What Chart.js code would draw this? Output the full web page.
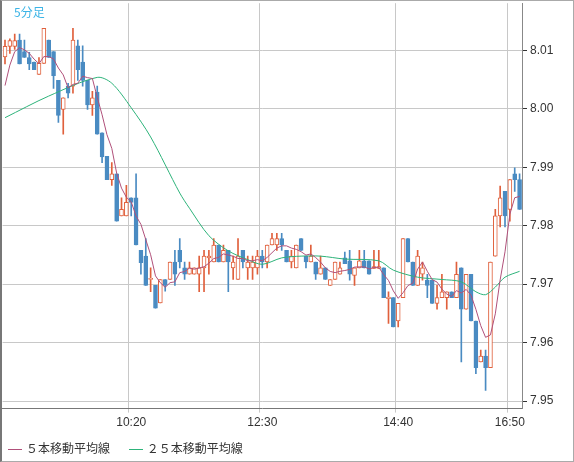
<!DOCTYPE html>
<html>
<head>
<meta charset="utf-8">
<script src="https://cdn.jsdelivr.net/npm/chart.js@4/dist/chart.umd.min.js"></script>
<style>
  body { margin: 0; background: #fff; font-family: "Noto Sans CJK JP", sans-serif; }
  #wrap { position: relative; width: 574px; height: 462px; box-sizing: border-box; border: 1px solid #aaa; border-left: 2px solid #777; overflow: hidden; }
  #c { margin-top: -8px; display: block; }
  #tf { position: absolute; left: 12px; top: 2px; color: #3cb4e6; font-size: 12px; }
  #legend { position: absolute; left: 6px; top: 438px; font-size: 12px; color: #333; }
  #legend span.ln { display: inline-block; width: 14px; height: 1px; vertical-align: middle; margin-right: 4px; }
</style>
</head>
<body>
<div id="wrap">
  <canvas id="c" width="570" height="467"></canvas>
  <div id="tf">5分足</div>
  <div id="legend">
    <span class="ln" style="background:#b0507a"></span>５本移動平均線
    <span class="ln" style="background:#2db37a;margin-left:16px"></span>２５本移動平均線
  </div>
</div>
<script>
// OHLC per 5-minute candle
const opens  = [8.0089,8.0107,8.0107,8.0118,8.0098,8.0088,8.0080,8.0059,8.0078,8.0118,8.0098,8.0049,7.9999,8.0039,8.0039,8.0108,8.0080,8.0049,8.0007,8.0029,
                7.9959,7.9919,7.9879,7.9889,7.9817,7.9817,7.9848,7.9848,7.9758,7.9748,7.9708,7.9698,7.9668,7.9708,7.9708,7.9738,7.9758,7.9728,7.9717,7.9717,
                7.9717,7.9728,7.9745,7.9738,7.9767,7.9738,7.9758,7.9728,7.9708,7.9758,7.9728,7.9728,7.9728,7.9748,7.9738,7.9767,7.9767,7.9778,7.9758,7.9738,
                7.9728,7.9778,7.9748,7.9738,7.9738,7.9717,7.9728,7.9698,7.9708,7.9717,7.9745,7.9740,7.9715,7.9728,7.9740,7.9740,7.9727,7.9727,7.9728,7.9675,
                7.9677,7.9637,7.9677,7.9778,7.9738,7.9698,7.9717,7.9707,7.9707,7.9667,7.9677,7.9677,7.9687,7.9677,7.9728,7.9657,7.9717,7.9637,7.9567,7.9577,
                7.9557,7.9748,7.9817,7.9859,7.9828,7.9889,7.9879];
const highs  = [8.0118,8.0120,8.0128,8.0128,8.0118,8.0097,8.0080,8.0088,8.0138,8.0118,8.0098,8.0049,8.0019,8.0044,8.0138,8.0118,8.0108,8.0049,8.0030,8.0039,
                7.9959,7.9919,7.9908,7.9889,7.9848,7.9869,7.9848,7.9889,7.9758,7.9778,7.9728,7.9698,7.9708,7.9708,7.9738,7.9758,7.9778,7.9738,7.9738,7.9728,
                7.9748,7.9758,7.9758,7.9778,7.9767,7.9767,7.9758,7.9748,7.9778,7.9758,7.9748,7.9748,7.9758,7.9758,7.9767,7.9787,7.9787,7.9787,7.9758,7.9758,
                7.9767,7.9778,7.9748,7.9767,7.9738,7.9748,7.9728,7.9708,7.9738,7.9738,7.9755,7.9758,7.9728,7.9758,7.9758,7.9740,7.9758,7.9758,7.9728,7.9687,
                7.9677,7.9667,7.9778,7.9778,7.9738,7.9758,7.9738,7.9717,7.9707,7.9698,7.9717,7.9687,7.9687,7.9738,7.9728,7.9717,7.9717,7.9637,7.9587,7.9587,
                7.9738,7.9828,7.9868,7.9859,7.9879,7.9899,7.9889];
const lows   = [8.0077,8.0095,8.0102,8.0077,8.0088,8.0067,8.0067,8.0059,8.0078,8.0088,8.0035,7.9977,7.9957,8.0019,8.0027,8.0049,8.0039,7.9999,7.9989,7.9957,
                7.9908,7.9879,7.9869,7.9808,7.9817,7.9817,7.9817,7.9767,7.9717,7.9698,7.9687,7.9659,7.9668,7.9688,7.9708,7.9698,7.9728,7.9708,7.9717,7.9717,
                7.9687,7.9687,7.9717,7.9738,7.9738,7.9738,7.9687,7.9708,7.9708,7.9728,7.9708,7.9708,7.9717,7.9728,7.9728,7.9767,7.9758,7.9758,7.9738,7.9728,
                7.9728,7.9758,7.9728,7.9738,7.9708,7.9717,7.9708,7.9698,7.9708,7.9717,7.9735,7.9707,7.9698,7.9728,7.9728,7.9717,7.9727,7.9727,7.9677,7.9633,
                7.9627,7.9627,7.9677,7.9738,7.9698,7.9698,7.9707,7.9677,7.9667,7.9657,7.9677,7.9657,7.9677,7.9677,7.9567,7.9657,7.9637,7.9547,7.9567,7.9518,
                7.9557,7.9748,7.9798,7.9798,7.9808,7.9859,7.9828];
const closes = [8.0107,8.0117,8.0117,8.0077,8.0088,8.0077,8.0067,8.0078,8.0138,8.0088,8.0057,7.9989,8.0019,8.0027,8.0118,8.0067,8.0049,8.0007,8.0019,7.9957,
                7.9918,7.9879,7.9889,7.9808,7.9828,7.9840,7.9840,7.9767,7.9737,7.9698,7.9710,7.9659,7.9708,7.9698,7.9738,7.9717,7.9738,7.9717,7.9728,7.9728,
                7.9728,7.9748,7.9748,7.9767,7.9738,7.9758,7.9738,7.9738,7.9748,7.9738,7.9738,7.9738,7.9748,7.9738,7.9767,7.9778,7.9778,7.9767,7.9738,7.9748,
                7.9767,7.9758,7.9738,7.9748,7.9717,7.9728,7.9708,7.9708,7.9738,7.9728,7.9735,7.9717,7.9728,7.9740,7.9728,7.9717,7.9730,7.9730,7.9677,7.9678,
                7.9627,7.9667,7.9778,7.9738,7.9698,7.9748,7.9728,7.9698,7.9667,7.9677,7.9687,7.9687,7.9677,7.9717,7.9657,7.9717,7.9637,7.9557,7.9577,7.9557,
                7.9738,7.9817,7.9848,7.9817,7.9879,7.9879,7.9828];
// first four 5-MA values (earlier closes not visible)
const ma5Head = [8.0040, 8.0075, 8.0098, 8.0105];
// 25-MA read at sampled candles [index, value]
const ma25Points = [[0,7.9985],[9,8.0022],[19,8.0054],[22,8.0044],[26,8.0002],[30,7.9952],[36,7.9856],[38,7.9830],[42,7.9783],
                    [46,7.9757],[50,7.9742],[53,7.9734],[57,7.9745],[61,7.9748],[65,7.9748],[70,7.9743],[77,7.9740],[80,7.9724],
                    [85,7.9712],[90,7.9708],[94,7.9704],[97,7.9687],[99,7.9682],[101,7.9695],[103,7.9712],[106,7.9722]];
const tickLabels = { 26: '10:20', 53: '12:30', 81: '14:40', 104: '16:50' };
const yTicks = [7.95, 7.96, 7.97, 7.98, 7.99, 8.00, 8.01];

const UP = '#e0603c', DOWN = '#4a8bc2';
const labels = closes.map((_, i) => tickLabels[i] || '');
const isUp = closes.map((c, i) => c >= opens[i]);
const ma5 = closes.map((_, i) => i < 4 ? ma5Head[i] : (closes[i] + closes[i-1] + closes[i-2] + closes[i-3] + closes[i-4]) / 5);
const ma25 = closes.map(() => null);
ma25Points.forEach(([i, v]) => { ma25[i] = v; });

new Chart(document.getElementById('c'), {
    data: {
        labels: labels,
        datasets: [
            { type: 'line', data: ma5, borderColor: '#b0507a', borderWidth: 1, pointRadius: 0, order: 0 },
            { type: 'line', data: ma25, borderColor: '#2db37a', borderWidth: 1, pointRadius: 0, spanGaps: true, tension: 0.3, order: 0 },
            { type: 'bar', data: opens.map((o, i) => {
                    const c = closes[i];
                    return Math.abs(c - o) < 0.0002 ? [o - 0.0001, o + 0.0001] : [o, c];
                }),
              backgroundColor: isUp.map(u => u ? '#ffffff' : DOWN),
              borderColor: isUp.map(u => u ? UP : DOWN),
              borderWidth: 1, borderSkipped: false, barThickness: 4, grouped: false, order: 1 },
            { type: 'bar', data: lows.map((l, i) => [l, highs[i]]),
              backgroundColor: isUp.map(u => u ? UP : DOWN),
              borderWidth: 0, barThickness: 1, grouped: false, order: 2 }
        ]
    },
    options: {
        responsive: false,
        animation: false,
        layout: { padding: { left: 0, right: 4, top: 0, bottom: 27 } },
        plugins: { legend: { display: false }, tooltip: { enabled: false } },
        scales: {
            x: {
                offset: true,
                grid: { color: ctx => (ctx.tick && ctx.tick.label) ? '#c8c8c8' : 'rgba(0,0,0,0)', tickLength: 4 },
                border: { color: '#777' },
                ticks: { autoSkip: false, maxRotation: 0, color: '#333', font: { size: 12 },
                         callback: (v, i) => labels[i] }
            },
            y: {
                position: 'right',
                min: 7.9487, max: 8.0181,
                afterBuildTicks: axis => { axis.ticks = yTicks.map(v => ({ value: v })); },
                afterFit: axis => { axis.width = 46; },
                grid: { color: '#c8c8c8', tickLength: 5, tickColor: '#333' },
                border: { color: '#888' },
                ticks: { color: '#333', font: { size: 12 }, callback: v => v.toFixed(2) }
            }
        }
    }
});
</script>
</body>
</html>
